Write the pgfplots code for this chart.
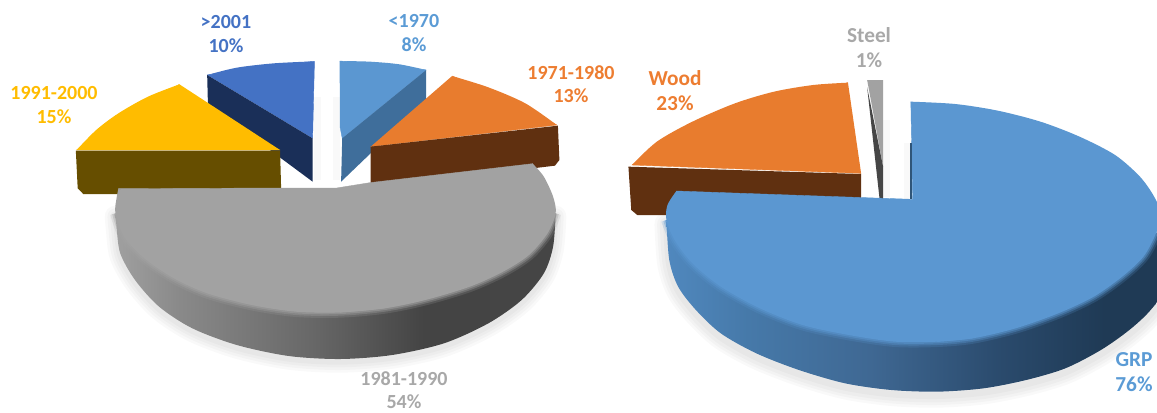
\documentclass[border=0pt]{standalone}
\usepackage{pgfplots}
\usepackage{pgfplotstable}
\usepackage{fontspec}
\setmainfont{Carlito}
\pgfplotsset{compat=1.18}
\definecolor{cb}{HTML}{5B97D1}
\definecolor{cbl}{HTML}{5B9BD5}
\definecolor{cd}{HTML}{4472C4}
\definecolor{cdl}{HTML}{4472C4}
\definecolor{co}{HTML}{E87C2E}
\definecolor{col}{HTML}{ED7D31}
\definecolor{cy}{HTML}{FFBC00}
\definecolor{cg}{HTML}{A2A2A2}
\definecolor{cgl}{HTML}{A8A8A8}
\definecolor{sd}{HTML}{1A2F58}
\definecolor{sl}{HTML}{3F6E9B}
\definecolor{so}{HTML}{603010}
\definecolor{sy}{HTML}{664E00}
\definecolor{ss}{HTML}{464646}
\definecolor{sbi}{HTML}{2F5578}
\definecolor{HTMLa}{HTML}{A0A0A0}
\definecolor{HTMLb}{HTML}{8A8A8A}
\definecolor{HTMLc}{HTML}{666666}
\definecolor{HTMLd}{HTML}{444444}
\definecolor{HTMLe}{HTML}{454545}
\definecolor{BLa}{HTML}{5088BE}
\definecolor{BLb}{HTML}{4679A9}
\definecolor{BLc}{HTML}{3F6893}
\definecolor{BLd}{HTML}{2A4A6C}
\definecolor{BLe}{HTML}{1F3A55}
\pgfdeclarehorizontalshading{sgray}{100bp}{color(0bp)=(HTMLa);color(25bp)=(HTMLa);color(32bp)=(HTMLb);color(48bp)=(HTMLc);color(60bp)=(HTMLd);color(75bp)=(HTMLe);color(100bp)=(HTMLe)}
\pgfdeclarehorizontalshading{sblue}{100bp}{color(0bp)=(BLa);color(25bp)=(BLa);color(33bp)=(BLb);color(45bp)=(BLc);color(58bp)=(BLd);color(68bp)=(BLe);color(75bp)=(BLe);color(100bp)=(BLe)}
\pgfplotstableread{
x y
560 225
640 203
740 190
850 184
}\darc
\pgfplotstableread{
x y
560 225
700 200
850 184
845 415
}\dpoly
\pgfplotstableread{
x y
560 225
845 415
845 545
562 312
}\dside
\pgfplotstableread{
x y
918 183
1000 185
1080 193
1152 210
}\larc
\pgfplotstableread{
x y
918 183
1035 192
1152 210
925 415
919 380
}\lpoly
\pgfplotstableread{
x y
1152 210
925 415
922 545
1152 300
}\lside
\pgfplotstableread{
x y
1222 228
1320 262
1420 310
1505 375
}\oarc
\pgfplotstableread{
x y
1222 228
1370 295
1505 375
1002 440
}\opoly
\pgfplotstableread{
x y
1002 440
1508 377
1512 480
1500 497
1440 505
1002 555
}\oside
\pgfplotstableread{
x y
485 253
400 290
320 340
260 390
207 450
}\yarc
\pgfplotstableread{
x y
485 253
340 340
207 450
757 450
}\ypoly
\pgfplotstableread{
x y
205 452
757 452
760 570
400 600
320 582
225 582
210 565
}\yside
\pgfplotstableread{
x y
312 640
315 680
325 760
365 840
430 920
520 985
640 1035
780 1068
920 1077
1060 1065
1200 1030
1320 970
1410 900
1470 820
1495 740
1502 640
}\ghull
\pgfplotstableread{
x y
312 640
335 710
390 775
470 835
560 880
680 915
800 935
920 937
1040 925
1150 900
1270 860
1360 815
1430 765
1480 700
1502 640
}\grim
\pgfplotstableread{
x y
1440 491
1470 530
1495 590
1502 640
1480 700
1430 765
1360 815
1270 860
1150 900
1040 925
920 937
800 935
}\garca
\pgfplotstableread{
x y
1040 925
920 937
800 935
680 915
560 880
470 835
390 775
335 710
312 640
315 595
320 566
}\garcb
\pgfplotstableread{
x y
320 566
760 564
910 564
1000 548
1440 491
920 937
}\gpoly
\pgfplotstableread{
x y
698 248
600 255
490 275
380 310
260 365
160 425
90 495
}\warc
\pgfplotstableread{
x y
698 248
380 325
90 495
735 520
}\wpoly
\pgfplotstableread{
x y
80 500
735 522
735 600
300 650
190 645
105 645
88 630
}\wside
\pgfplotstableread{
x y
752 240
797 240
797 500
}\sttop
\pgfplotstableread{
x y
752 262
797 500
797 597
787 597
}\sside
\pgfplotstableread{
x y
187 660
195 780
220 860
270 930
340 1000
440 1060
560 1110
690 1150
820 1170
950 1175
1080 1165
1200 1140
1310 1105
1410 1050
1490 990
1550 930
1600 850
1620 700
}\bhull
\pgfplotstableread{
x y
187 660
210 720
260 790
340 860
450 925
570 975
700 1005
830 1025
950 1025
1050 1015
1170 985
1290 940
1390 890
1470 830
1530 770
1565 700
1578 640
}\brim
\pgfplotstableread{
x y
875 305
1000 312
1120 332
1240 365
1350 410
1450 465
1520 530
1560 590
1578 640
1565 700
1530 770
1470 830
1390 890
1290 940
1170 985
1050 1015
950 1025
}\barca
\pgfplotstableread{
x y
1050 1015
950 1025
830 1025
700 1005
570 975
450 925
340 860
260 790
210 720
187 660
190 615
215 573
}\barcb
\pgfplotstableread{
x y
875 305
880 598
215 573
950 1025
1050 1000
1050 600
}\bpoly
\pgfplotstableread{
x y
875 430
875 598
}\binner
\pgfplotstableread{
x y
850 290
868 290
868 540
850 540
}\lgapa
\pgfplotstableread{
x y
900 290
918 290
918 540
900 540
}\lgapb
\pgfplotstableread{
x y
797 360
815 360
815 590
797 590
}\rgapa
\pgfplotstableread{
x y
855 430
875 430
875 598
855 598
}\rgapb
\tikzset{lab/.style={font=\fontsize{15}{17.3}\selectfont\bfseries,align=center,anchor=center},
 labr/.style={font=\fontsize{16}{18.7}\selectfont\bfseries,align=center,anchor=center}}
\begin{document}
\begin{tikzpicture}
\begin{axis}[name=a,hide axis,scale only axis,width=867.75pt,height=309pt,xmin=0,xmax=1157,ymin=0,ymax=412,y dir=reverse,
 L/.style={x filter/.expression={x/2.703},y filter/.expression={y/3}},
 LS/.style={x filter/.expression={x/2.703},y filter/.expression={y/3+#1}},
 R/.style={x filter/.expression={600+x/2.815},y filter/.expression={y/3}},
 RS/.style={x filter/.expression={600+x/2.815},y filter/.expression={y/3+#1}},
 face/.style={draw=none,fill=#1,mark=none,forget plot},
 poly/.style={draw=#1,line width=.3pt,line join=round,fill=#1,mark=none,forget plot},
 curve/.style={draw=none,fill=#1,mark=none,forget plot,smooth,tension=0.5},
 gap/.style={draw=none,fill=black,fill opacity=.025,mark=none,forget plot},
 shad/.style={draw=black,draw opacity=.024,fill=none,line width=#1,line join=round,line cap=round,smooth,mark=none,forget plot,restrict y to domain=245:500},
 every axis plot/.append style={mark=none}]
% shadows
\addplot[gap,L] table {\lgapa};
\addplot[gap,L] table {\lgapb};
\addplot[gap,R] table {\rgapa};
\addplot[gap,R] table {\rgapb};
\addplot[shad=16pt,LS=3] table {\ghull};
\addplot[shad=12pt,LS=3] table {\ghull};
\addplot[shad=8pt,LS=3] table {\ghull};
\addplot[shad=4pt,LS=3] table {\ghull};
\addplot[shad=18pt,RS=4] table {\bhull};
\addplot[shad=14pt,RS=4] table {\bhull};
\addplot[shad=10pt,RS=4] table {\bhull};
\addplot[shad=5pt,RS=4] table {\bhull};
% left pie back pieces
\addplot[curve=cd,L] table {\darc};
\addplot[poly=cd,L] table {\dpoly};
\addplot[face=sd,L] table {\dside};
\addplot[curve=cb,L] table {\larc};
\addplot[poly=cb,L] table {\lpoly};
\addplot[face=sl,L] table {\lside};
\addplot[curve=co,L] table {\oarc};
\addplot[poly=co,L] table {\opoly};
\addplot[face=so,L] table {\oside};
\addplot[curve=cy,L] table {\yarc};
\addplot[poly=cy,L] table {\ypoly};
\addplot[face=sy,L] table {\yside};
% left pie gray
\addplot[draw=none,shade,shading=sgray,L,forget plot,smooth] table {\ghull};
\addplot[draw=cg,draw opacity=.2,line width=8pt,fill=none,L,smooth,forget plot] table {\grim};
\addplot[draw=cg,draw opacity=.35,line width=5pt,fill=none,L,smooth,forget plot] table {\grim};
\addplot[draw=cg,draw opacity=.5,line width=2.5pt,fill=none,L,smooth,forget plot] table {\grim};
\addplot[curve=cg,L] table {\garca};
\addplot[curve=cg,L] table {\garcb};
\addplot[poly=cg,L] table {\gpoly};
% right pie
\addplot[curve=co,R] table {\warc};
\addplot[poly=co,R] table {\wpoly};
\addplot[face=so,R] table {\wside};
\addplot[face=cg,R] table {\sttop};
\addplot[face=ss,R] table {\sside};
\addplot[draw=none,shade,shading=sblue,R,forget plot,smooth] table {\bhull};
\addplot[draw=cb,draw opacity=.2,line width=8pt,fill=none,R,smooth,forget plot] table {\brim};
\addplot[draw=cb,draw opacity=.35,line width=5pt,fill=none,R,smooth,forget plot] table {\brim};
\addplot[draw=cb,draw opacity=.5,line width=2.5pt,fill=none,R,smooth,forget plot] table {\brim};
\addplot[curve=cb,R] table {\barca};
\addplot[curve=cb,R] table {\barcb};
\addplot[poly=cb,R] table {\bpoly};
\addplot[draw=sbi,line width=1.2pt,R,forget plot] table {\binner};
% labels
\node[lab,text=cdl] at (axis cs:226,34) {>2001\\10\%};
\node[lab,text=cbl] at (axis cs:414,33) {<1970\\8\%};
\node[lab,text=col] at (axis cs:571,84) {1971-1980\\13\%};
\node[lab,text=cy] at (axis cs:54,105) {1991-2000\\15\%};
\node[lab,text=cgl] at (axis cs:404,390) {1981-1990\\54\%};
\node[labr,text=col] at (axis cs:675,91) {Wood\\23\%};
\node[labr,text=cgl] at (axis cs:869,48) {Steel\\1\%};
\node[labr,text=cbl] at (axis cs:1134,372) {GRP\\76\%};
\end{axis}
\pgfresetboundingbox
\useasboundingbox (a.south west) rectangle (a.north east);
\end{tikzpicture}
\end{document}
